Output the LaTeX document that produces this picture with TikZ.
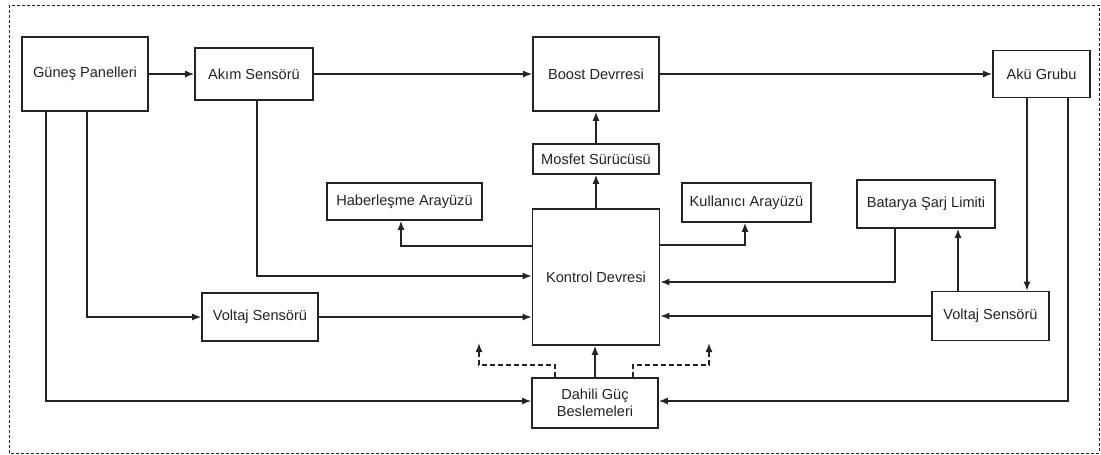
\documentclass[tikz,border=0pt]{standalone}
\usepackage{fontspec}
\setmainfont{Liberation Sans}
\usetikzlibrary{arrows.meta}
\definecolor{ink}{RGB}{35,35,35}
\begin{document}
\begin{tikzpicture}[x=1pt,y=-1pt,
  blk/.style={draw=ink, line width=1.6pt, inner sep=0pt, text=ink,
    font=\fontsize{14.6pt}{17.5pt}\selectfont, align=center},
  link/.style={draw=ink, line width=1.5pt, -{Latex[length=9pt,width=7pt]}},
  aux/.style={link, dashed, dash pattern=on 5pt off 3pt}]
\useasboundingbox (0,0) rectangle (1101,455);
\draw[ink, line width=0.8pt, dash pattern=on 3pt off 2pt] (9,5) rectangle (1099,453);

% blocks
\node[blk, minimum width=126pt, minimum height=74pt] (gp) at (85,74) {Güneş Panelleri};
\node[blk, minimum width=118pt, minimum height=52pt] (akim) at (254,74) {Akım Sensörü};
\node[blk, minimum width=126pt, minimum height=74pt] (boost) at (596,74) {Boost Devrresi};
\node[blk, minimum width=126pt, minimum height=30pt] (mosfet) at (596,159) {Mosfet Sürücüsü};
\node[blk, minimum width=97pt, minimum height=47pt] (aku) at (1041.5,74) {Akü Grubu};
\node[blk, minimum width=155pt, minimum height=37pt] (haber) at (404.5,201.5) {Haberleşme Arayüzü};
\node[blk, minimum width=127pt, minimum height=136pt] (kontrol) at (596,277) {Kontrol Devresi};
\node[blk, minimum width=116pt, minimum height=48pt] (voltL) at (260,317) {Voltaj Sensörü};
\node[blk, minimum width=129pt, minimum height=39pt] (kull) at (746.5,202.5) {Kullanıcı Arayüzü};
\node[blk, minimum width=138pt, minimum height=48pt] (batarya) at (926,204) {Batarya Şarj Limiti};
\node[blk, minimum width=117pt, minimum height=49pt] (voltR) at (990.5,316) {Voltaj Sensörü};
\node[blk, minimum width=126pt, minimum height=50pt] (dahili) at (595,403) {Dahili Güç\\Beslemeleri};

% free ends of the dashed supply branches
\coordinate (supL) at (479,343);
\coordinate (supR) at (709,343);

% main power path
\draw[link] (gp.east) -- (akim.west);
\draw[link] (akim.east) -- (boost.west);
\draw[link] (boost.east) -- (aku.west);

% measurements into the controller
\draw[link] ([xshift=3pt]akim.south) |- ([yshift=1pt]kontrol.west);
\draw[link] ([xshift=2pt]gp.south) |- (voltL.west);
\draw[link] (voltL.east) -- (voltL.east -| kontrol.west);
\draw[link] ([xshift=-14.5pt]aku.south) -- ([xshift=-14.5pt]aku.south |- voltR.north);
\draw[link] (voltR.west) -- (voltR.west -| kontrol.east);
\draw[link] ([xshift=-32.5pt]voltR.north) -- ([xshift=-32.5pt]voltR.north |- batarya.south);
\draw[link] ([xshift=-31pt]batarya.south) |- ([yshift=-5pt]kontrol.east);

% controller outputs
\draw[link] (kontrol.north) -- (mosfet.south);
\draw[link] (mosfet.north) -- (boost.south);
\draw[link] ([yshift=31pt]kontrol.west) -| ([xshift=-3.5pt]haber.south);
\draw[link] ([yshift=32pt]kontrol.east) -| ([xshift=-1.5pt]kull.south);

% internal supplies
\draw[link] ([xshift=-39pt]gp.south) |- ([yshift=2pt]dahili.west);
\draw[link] ([xshift=26.5pt]aku.south) |- ([yshift=2pt]dahili.east);
\draw[link] (dahili.north) -- (dahili.north |- kontrol.south);
\draw[aux] ([xshift=-40pt]dahili.north) -- ++(0,-12) -| (supL);
\draw[aux] ([xshift=38pt]dahili.north) -- ++(0,-12) -| (supR);
\end{tikzpicture}
\end{document}
